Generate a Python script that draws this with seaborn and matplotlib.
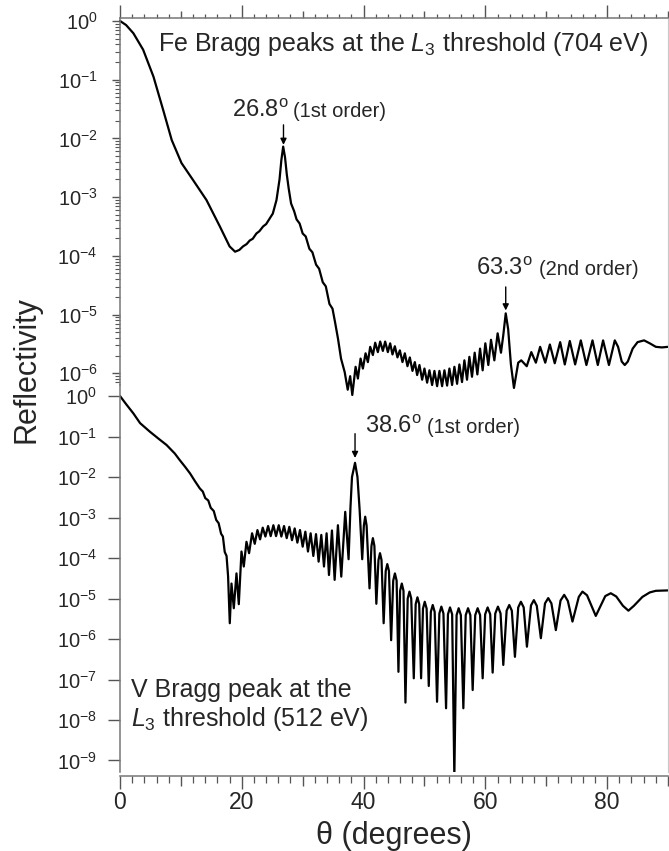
import numpy as np
import pandas as pd
import matplotlib
matplotlib.use("Agg")
import matplotlib.pyplot as plt
import matplotlib.ticker as mticker
import seaborn as sns

# Fe multilayer at the Fe L3 edge (704 eV): angle in degrees, log10(reflectivity)
fe_theta = [0.0, 1.0, 2.2, 3.8, 5.5, 7.1, 8.5, 10.1, 12.0, 14.2, 16.4, 18.0, 18.9, 19.6,
            20.2, 20.8, 21.3, 21.8, 22.4, 22.9, 23.5, 24.0, 24.6, 25.1, 25.7, 26.2, 26.5,
            26.8, 27.1, 27.4, 27.7, 28.1, 28.6, 29.0, 29.5, 30.0, 30.5, 31.1, 31.6, 32.2,
            32.7, 33.3, 33.8, 34.4, 34.9, 35.3, 35.8, 36.3, 36.9, 37.4, 37.8, 38.15, 38.69,
            39.07, 39.51, 39.89, 40.33, 40.71, 41.09, 41.53, 41.91, 42.35, 42.73, 43.17,
            43.55, 43.99, 44.37, 44.75, 45.14, 45.57, 45.96, 46.39, 46.78, 47.21, 47.60,
            48.03, 48.42, 48.80, 49.18, 49.62, 50.00, 50.44, 50.82, 51.26, 51.64, 52.08,
            52.46, 52.90, 53.28, 53.72, 54.10, 54.54, 54.92, 55.36, 55.74, 56.17, 56.56,
            56.99, 57.38, 57.81, 58.25, 58.69, 59.13, 59.56, 60.00, 60.49, 60.93, 61.48,
            62.02, 62.57, 62.95, 63.35, 63.75, 64.2, 64.7, 65.4, 65.9, 66.8, 67.55, 68.3,
            69.0, 69.84, 70.6, 71.4, 72.29, 73.05, 73.87, 74.75, 75.68, 76.6, 77.6, 78.47,
            79.34, 80.3, 81.26, 81.8, 82.4, 82.9, 83.4, 84.2, 85.0, 86.07, 87.0, 88.0,
            89.0, 90.0]
fe_logr = [0.0, -0.07, -0.21, -0.49, -0.95, -1.52, -2.03, -2.42, -2.71, -3.05, -3.50, -3.84,
           -3.93, -3.90, -3.84, -3.80, -3.74, -3.71, -3.62, -3.58, -3.50, -3.46, -3.36, -3.28,
           -3.05, -2.70, -2.37, -2.14, -2.32, -2.62, -2.85, -3.11, -3.24, -3.38, -3.45, -3.62,
           -3.67, -3.88, -3.94, -4.15, -4.22, -4.45, -4.52, -4.82, -4.90, -5.12, -5.41, -5.75,
           -5.98, -6.28, -6.05, -6.37, -5.89, -6.09, -5.75, -5.92, -5.66, -5.81, -5.55, -5.69,
           -5.48, -5.64, -5.46, -5.62, -5.46, -5.64, -5.49, -5.68, -5.54, -5.73, -5.61, -5.81,
           -5.66, -5.88, -5.73, -5.96, -5.81, -6.03, -5.86, -6.11, -5.92, -6.16, -5.95, -6.20,
           -5.96, -6.22, -5.96, -6.22, -5.95, -6.21, -5.92, -6.20, -5.89, -6.18, -5.85, -6.15,
           -5.78, -6.11, -5.72, -6.06, -5.65, -6.02, -5.58, -5.95, -5.49, -5.86, -5.43, -5.78,
           -5.32, -5.65, -5.35, -4.98, -5.25, -5.85, -6.25, -5.82, -5.78, -5.88, -5.64, -5.82,
           -5.55, -5.82, -5.51, -5.83, -5.47, -5.85, -5.45, -5.85, -5.44, -5.86, -5.44, -5.86,
           -5.44, -5.86, -5.44, -5.55, -5.80, -5.86, -5.80, -5.58, -5.47, -5.44, -5.49, -5.55,
           -5.56, -5.55]

# V multilayer at the V L3 edge (512 eV), one row per stretch of the curve
v_theta = [0.0, 1.0, 2.2, 3.3, 4.9, 6.3, 7.65, 9.0, 9.8, 10.7, 11.5, 12.3, 13.1,
           13.6, 14.0, 14.5, 14.9, 15.4, 15.8, 16.2, 16.6, 16.9, 17.2, 17.5, 17.75, 18.03,
           18.31, 18.69, 19.13, 19.51, 19.95, 20.33, 20.77, 21.20, 21.69, 22.13, 22.57, 23.01,
           23.44, 23.88, 24.32, 24.75, 25.19, 25.63, 26.07, 26.50, 26.94, 27.38, 27.81, 28.25,
           28.69, 29.13, 29.56, 30.00, 30.44, 30.87, 31.31, 31.75, 32.19, 32.62, 33.06, 33.50,
           33.93, 34.32, 34.81, 35.25, 35.79, 36.34, 36.99, 37.54,
           37.85, 38.1, 38.6, 39.0, 39.35, 39.78,
           40.05, 40.27, 40.5, 40.98, 41.3, 41.53, 41.78, 42.1,
           42.45, 42.7, 42.95, 43.3, 43.64, 43.9, 44.17, 44.53,
           44.87, 45.15, 45.43, 45.73, 46.0, 46.28, 46.56, 46.88,
           47.25, 47.54, 47.83, 48.25, 48.56, 48.85, 49.14, 49.45,
           49.76, 50.05, 50.36, 50.71, 51.05, 51.36, 51.68, 52.07,
           52.45, 52.78, 53.12, 53.55, 53.86, 54.20, 54.55, 54.91,
           55.28, 55.62, 55.98, 56.39, 56.78, 57.16, 57.54, 57.92,
           58.34, 58.74, 59.14, 59.56, 59.97, 60.38, 60.8, 61.20,
           61.63, 62.07, 62.5, 62.95, 63.5, 63.93, 64.35, 64.86,
           65.4, 65.84, 66.3, 66.83, 67.5, 67.97, 68.45, 69.12,
           69.8, 70.33, 70.85, 71.58, 72.35, 72.95, 73.55, 74.31,
           75.35, 75.95, 76.7, 77.5, 78.14, 78.8, 79.7, 80.6,
           81.5, 82.6, 83.5, 84.4, 85.8, 87.0, 88.0, 90.0]
v_logr = [0.0, -0.20, -0.43, -0.67, -0.88, -1.05, -1.21, -1.42, -1.58, -1.75, -1.91, -2.10, -2.28,
          -2.36, -2.52, -2.58, -2.76, -2.84, -3.06, -3.14, -3.40, -3.47, -3.85, -3.95, -4.45, -5.61,
          -4.63, -5.24, -4.38, -5.14, -3.84, -4.21, -3.60, -3.88, -3.39, -3.65, -3.31, -3.54,
          -3.25, -3.47, -3.21, -3.46, -3.19, -3.46, -3.19, -3.47, -3.21, -3.51, -3.23, -3.56,
          -3.27, -3.62, -3.31, -3.72, -3.35, -3.84, -3.39, -3.95, -3.41, -4.09, -3.43, -4.21,
          -3.39, -4.42, -3.32, -4.54, -3.19, -4.46, -2.86, -4.03,
          -2.75, -2.00, -1.65, -2.00, -2.80, -4.03,
          -3.20, -2.98, -3.20, -4.75, -3.70, -3.51, -3.70, -5.13,
          -4.05, -3.88, -4.05, -5.61, -4.32, -4.15, -4.32, -6.03,
          -4.56, -4.38, -4.56, -6.81, -4.81, -4.63, -4.81, -7.57,
          -5.00, -4.83, -5.00, -6.97, -5.14, -4.97, -5.14, -6.97,
          -5.25, -5.08, -5.25, -7.16, -5.33, -5.16, -5.33, -7.55,
          -5.37, -5.20, -5.37, -7.71, -5.39, -5.22, -5.39, -9.40,
          -5.41, -5.24, -5.41, -7.71, -5.41, -5.24, -5.41, -7.26,
          -5.41, -5.24, -5.41, -6.97, -5.39, -5.22, -5.39, -6.83,
          -5.37, -5.20, -5.37, -6.64, -5.30, -5.16, -5.30, -6.44,
          -5.22, -5.08, -5.22, -6.19, -5.17, -5.04, -5.18, -5.98,
          -5.12, -4.99, -5.12, -5.78, -5.05, -4.91, -5.06, -5.57,
          -4.96, -4.83, -4.92, -5.20, -5.43, -5.22, -4.94, -4.87,
          -4.95, -5.18, -5.30, -5.18, -4.96, -4.85, -4.81, -4.80]

fe = pd.DataFrame({"theta": fe_theta, "R": 10 ** np.array(fe_logr)})
vv = pd.DataFrame({"theta": v_theta, "R": 10 ** np.array(v_logr)})

sns.set_style("ticks")
plt.rcParams["font.family"] = ["Liberation Sans", "DejaVu Sans"]
plt.rcParams["mathtext.fontset"] = "custom"
plt.rcParams["mathtext.rm"] = "Liberation Sans"
plt.rcParams["mathtext.it"] = "Liberation Sans:italic"
plt.rcParams["mathtext.bf"] = "Liberation Sans:bold"

W, H = 669, 851
fig = plt.figure(figsize=(W / 100, H / 100), dpi=100)
ax1 = fig.add_axes([120 / W, 1 - 385 / H, 548 / W, 367 / H])
ax2 = fig.add_axes([120 / W, 1 - 772 / H, 548 / W, 387 / H])
ax2.set_facecolor("none")

sns.lineplot(data=fe, x="theta", y="R", ax=ax1, color="black", lw=1.6,
             estimator=None, sort=False)
ax1.get_lines()[-1].set_clip_on(False)
sns.lineplot(data=vv, x="theta", y="R", ax=ax2, color="black", lw=1.6,
             estimator=None, sort=False)

spine_c = "#777777"
tick_c = "#555555"
fmt_pow = mticker.FuncFormatter(lambda v, p: rf"$10^{{{int(np.round(np.log10(v)))}}}$")

for ax in (ax1, ax2):
    ax.set_xlabel("")
    ax.set_ylabel("")
    ax.set_yscale("log")
    ax.set_xlim(0, 90)
    ax.xaxis.set_major_locator(mticker.MultipleLocator(10))
    ax.xaxis.set_minor_locator(mticker.MultipleLocator(2))
    for s in ax.spines.values():
        s.set_color(spine_c)
        s.set_linewidth(1.1)
    ax.spines["right"].set_color("#c8c8c8")
    ax.spines["right"].set_linewidth(0.8)

# top panel
ax1.set_ylim(10 ** -6.2, 10 ** 0.05)
ax1.yaxis.set_major_locator(mticker.FixedLocator([10.0 ** k for k in range(-6, 1)]))
ax1.yaxis.set_minor_locator(mticker.FixedLocator(
    [m * 10.0 ** k for k in range(-7, 0) for m in range(2, 10)]))
ax1.yaxis.set_major_formatter(fmt_pow)
ax1.yaxis.set_minor_formatter(mticker.NullFormatter())
ax1.spines["bottom"].set_visible(False)
ax1.xaxis.set_ticks_position("top")
ax1.tick_params(axis="x", which="major", direction="out", length=5, width=1.0,
                color=tick_c, labeltop=False, labelbottom=False)
ax1.tick_params(axis="x", which="minor", direction="out", length=3.2, width=0.9, color=tick_c)
ax1.tick_params(axis="y", which="major", direction="out", length=6, width=1.0,
                color=tick_c, labelsize=14.5, pad=10)
ax1.tick_params(axis="y", which="minor", direction="out", length=3.5, width=0.8, color=tick_c)

# bottom panel
ax2.set_ylim(10 ** -9.284, 10 ** 0.272)
ax2.yaxis.set_major_locator(mticker.FixedLocator([10.0 ** k for k in range(-9, 1)]))
ax2.yaxis.set_minor_locator(mticker.NullLocator())
ax2.yaxis.set_major_formatter(fmt_pow)
ax2.spines["top"].set_visible(False)
ax2.spines["bottom"].set_position(("outward", 3))
ax2.xaxis.set_major_formatter(mticker.FuncFormatter(
    lambda v, p: f"{v:.0f}" if int(round(v)) % 20 == 0 else ""))
ax2.tick_params(axis="x", which="major", direction="out", length=7, width=1.0,
                color=tick_c, labelsize=16.5, pad=4)
ax2.tick_params(axis="x", which="minor", direction="out", length=5, width=0.9, color=tick_c)
ax2.tick_params(axis="y", which="major", direction="out", length=8.5, width=1.0,
                color=tick_c, labelsize=14.5, pad=8)

# longer ticks every 20 degrees
for ax in (ax1, ax2):
    locs = ax.xaxis.get_majorticklocs()
    for loc, tk in zip(locs, ax.xaxis.get_major_ticks(len(locs))):
        if int(round(loc)) % 20 == 0:
            tk.tick1line.set_markersize(9.5)
            tk.tick2line.set_markersize(9.5)

arrow = dict(arrowstyle="-|>", color="black", lw=1.0, mutation_scale=9, shrinkA=0, shrinkB=0)

ax1.text(6.2, 10 ** -0.52, r"Fe Bragg peaks at the $\mathit{L_3}$ threshold (704 eV)",
         fontsize=18, va="baseline", ha="left")
ax1.text(18.4, 10 ** -1.63, r"26.8$^{\mathrm{o}}$", fontsize=17, va="baseline")
ax1.text(28.4, 10 ** -1.63, "(1st order)", fontsize=14.5, va="baseline")
ax1.annotate("", xy=(26.85, 10 ** -2.11), xytext=(26.85, 10 ** -1.77), arrowprops=arrow)
ax1.text(58.5, 10 ** -4.33, r"63.3$^{\mathrm{o}}$", fontsize=17, va="baseline")
ax1.text(68.85, 10 ** -4.33, "(2nd order)", fontsize=14.5, va="baseline")
ax1.annotate("", xy=(63.35, 10 ** -4.93), xytext=(63.35, 10 ** -4.53), arrowprops=arrow)

ax2.text(40.2, 10 ** -0.92, r"38.6$^{\mathrm{o}}$", fontsize=17, va="baseline")
ax2.text(50.5, 10 ** -0.92, "(1st order)", fontsize=14.5, va="baseline")
ax2.annotate("", xy=(38.6, 10 ** -1.53), xytext=(38.6, 10 ** -0.93), arrowprops=arrow)
ax2.text(1.8, 10 ** -7.43, "V Bragg peak at the", fontsize=18, va="baseline")
ax2.text(1.8, 10 ** -8.15, r"$\mathit{L_3}$ threshold (512 eV)", fontsize=18, va="baseline")

fig.text(27 / W, 1 - 370 / H, "Reflectivity", rotation=90, fontsize=22,
         ha="center", va="center")
fig.text(394 / W, 1 - 836 / H, "θ (degrees)", fontsize=22, ha="center", va="center")

fig.savefig("out.png", dpi=100)
